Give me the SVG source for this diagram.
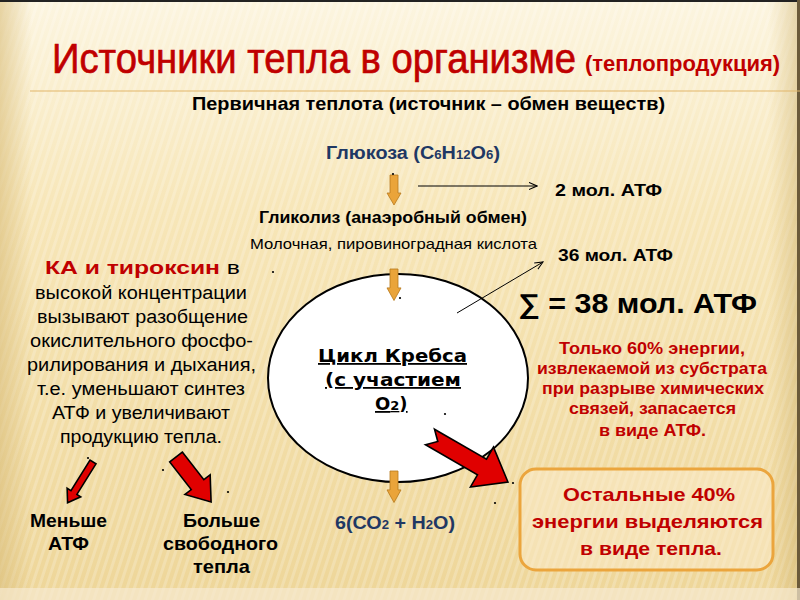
<svg xmlns="http://www.w3.org/2000/svg" width="800" height="600" viewBox="0 0 800 600">
<defs>
<linearGradient id="bg" x1="0" y1="0" x2="0" y2="1">
<stop offset="0" stop-color="#fcf5e0"/>
<stop offset="0.35" stop-color="#f7e6b8"/>
<stop offset="1" stop-color="#eed699"/>
</linearGradient>
<linearGradient id="side" x1="0" y1="0" x2="1" y2="0">
<stop offset="0" stop-color="#d9bd7a" stop-opacity="0.6"/>
<stop offset="0.04" stop-color="#d9bd7a" stop-opacity="0"/>
<stop offset="0.96" stop-color="#d9bd7a" stop-opacity="0"/>
<stop offset="1" stop-color="#c9ad6a" stop-opacity="0.5"/>
</linearGradient>
<pattern id="stripes" width="7" height="7" patternUnits="userSpaceOnUse" patternTransform="rotate(18)">
<rect x="0" y="0" width="3" height="7" fill="#ffffff" fill-opacity="0.2"/>
</pattern>
<marker id="thin" viewBox="0 0 10 10" refX="9" refY="5" markerWidth="9" markerHeight="9" orient="auto" markerUnits="userSpaceOnUse">
<path d="M0,1 L9,5 L0,9" fill="none" stroke="#000" stroke-width="1.2"/>
</marker>
<path id="oarrow" d="M-4,0 L4,0 L4,18 L7,18 L0,30 L-7,18 L-4,18 Z"/>
</defs>
<style>
.bk{font-family:"Liberation Sans",Arial,sans-serif;fill:#000}
.b{font-weight:bold}
.red{fill:#c00000}
.blue{fill:#1f3864}
.oa{fill:#eaa43a;stroke:#b87a1e;stroke-width:0.8}
.ra{fill:#e00000;stroke:#000;stroke-width:1.6;stroke-linejoin:miter}
.dot{fill:#000}
.conn{stroke:#000;stroke-width:1;fill:none}
</style>

<rect width="800" height="600" fill="url(#bg)"/>
<rect width="800" height="600" fill="url(#stripes)"/>
<rect width="800" height="600" fill="url(#side)"/>
<rect x="0" y="0" width="800" height="2" fill="#222"/>
<rect x="797" y="0" width="3" height="600" fill="#6b5a3a"/>
<rect x="0" y="588" width="800" height="12" fill="#f6ead0" fill-opacity="0.7"/>

<g id="title">
<text class="bk red" transform="translate(52,73) scale(0.8,1)" x="0" y="0" font-size="43" stroke="#c00000" stroke-width="0.7" textLength="655" lengthAdjust="spacingAndGlyphs">Источники тепла в организме</text>
<text class="bk b red" transform="translate(585,71) scale(0.8,1)" x="0" y="0" font-size="22" textLength="244" lengthAdjust="spacingAndGlyphs">(теплопродукция)</text>
<line x1="30" y1="91" x2="800" y2="91" stroke="#e2b56a" stroke-width="1.2"/>
<text class="bk b" x="192" y="110" font-size="18" textLength="473" lengthAdjust="spacingAndGlyphs">Первичная теплота (источник – обмен веществ)</text>
</g>

<g id="glucose">
<text class="bk b blue" x="326" y="159" font-size="18" textLength="174" lengthAdjust="spacingAndGlyphs">Глюкоза (С<tspan font-size="12">6</tspan>Н<tspan font-size="12">12</tspan>О<tspan font-size="12">6</tspan>)</text>
</g>
<g id="atp2"><text class="bk b" x="555" y="196" font-size="17" textLength="107" lengthAdjust="spacingAndGlyphs">2 мол. АТФ</text></g>
<g id="glycolysis">
<text class="bk b" x="259" y="223" font-size="16" textLength="268" lengthAdjust="spacingAndGlyphs">Гликолиз (анаэробный обмен)</text>
<text class="bk" x="250" y="249" font-size="15" textLength="287" lengthAdjust="spacingAndGlyphs">Молочная, пировиноградная кислота</text>
</g>
<g id="atp36"><text class="bk b" x="558" y="261" font-size="17" textLength="115" lengthAdjust="spacingAndGlyphs">36 мол. АТФ</text></g>
<g id="sum"><text class="bk b" x="518" y="313" font-size="27" textLength="239" lengthAdjust="spacingAndGlyphs">∑ = 38 мол. АТФ</text></g>

<g id="krebs">
<ellipse cx="398" cy="378" rx="130" ry="104" fill="#fff" stroke="#000" stroke-width="2"/>
<g font-family="'DejaVu Sans',Verdana,sans-serif" font-weight="bold" font-size="18" text-decoration="underline" fill="#000">
<text x="318" y="362" textLength="149" lengthAdjust="spacingAndGlyphs">Цикл Кребса</text>
<text x="325" y="386" textLength="136" lengthAdjust="spacingAndGlyphs">(с участием</text>
<text x="375" y="410">O<tspan font-size="13">2</tspan>)</text>
</g>
</g>

<g id="note60">
<g class="bk b red" font-size="16">
<text x="559" y="354" textLength="186" lengthAdjust="spacingAndGlyphs">Только  60% энергии,</text>
<text x="537" y="374" textLength="230" lengthAdjust="spacingAndGlyphs">извлекаемой из субстрата</text>
<text x="542" y="394" textLength="222" lengthAdjust="spacingAndGlyphs">при разрыве химических</text>
<text x="569" y="414" textLength="167" lengthAdjust="spacingAndGlyphs">связей, запасается</text>
<text x="599" y="436" textLength="107" lengthAdjust="spacingAndGlyphs">в виде АТФ.</text>
</g>
</g>

<g id="heat40">
<rect x="520" y="469" width="253" height="101" rx="16" fill="#fbeccb" fill-opacity="0.5" stroke="#eba53d" stroke-width="3"/>
<g class="bk b red" font-size="19">
<text x="563" y="501" textLength="172" lengthAdjust="spacingAndGlyphs">Остальные 40%</text>
<text x="532" y="528" textLength="231" lengthAdjust="spacingAndGlyphs">энергии выделяются</text>
<text x="580" y="555" textLength="142" lengthAdjust="spacingAndGlyphs">в виде тепла.</text>
</g>
</g>

<g id="products"><text class="bk b blue" x="335" y="529" font-size="18" textLength="120" lengthAdjust="spacingAndGlyphs">6(СО<tspan font-size="12">2</tspan> + Н<tspan font-size="12">2</tspan>О)</text></g>

<g id="hormones">
<g class="bk" font-size="18">
<text x="45" y="274" textLength="195" lengthAdjust="spacingAndGlyphs"><tspan class="b red">КА  и  тироксин</tspan>  в</text>
<text x="35" y="299" textLength="212" lengthAdjust="spacingAndGlyphs">высокой концентрации</text>
<text x="37" y="323" textLength="211" lengthAdjust="spacingAndGlyphs">вызывают разобщение</text>
<text x="30" y="347" textLength="223" lengthAdjust="spacingAndGlyphs">окислительного фосфо-</text>
<text x="27" y="371" textLength="229" lengthAdjust="spacingAndGlyphs">рилирования и дыхания,</text>
<text x="37" y="395" textLength="208" lengthAdjust="spacingAndGlyphs">т.е. уменьшают синтез</text>
<text x="52" y="419" textLength="178" lengthAdjust="spacingAndGlyphs">АТФ и увеличивают</text>
<text x="60" y="443" textLength="162" lengthAdjust="spacingAndGlyphs">продукцию тепла.</text>
</g>
</g>

<g id="lessATP"><g class="bk b" font-size="18.5"><text x="30" y="527" textLength="77" lengthAdjust="spacingAndGlyphs">Меньше</text><text x="48" y="550" textLength="41" lengthAdjust="spacingAndGlyphs">АТФ</text></g></g>
<g id="moreHeat"><g class="bk b" font-size="18.5"><text x="183" y="527" textLength="77" lengthAdjust="spacingAndGlyphs">Больше</text><text x="163" y="550" textLength="115" lengthAdjust="spacingAndGlyphs">свободного</text><text x="193" y="573" textLength="57" lengthAdjust="spacingAndGlyphs">тепла</text></g></g>

<g id="connectors">
<use href="#oarrow" class="oa" transform="translate(394,175)"/>
<use href="#oarrow" class="oa" transform="translate(394,269) scale(1,1.05)"/>
<use href="#oarrow" class="oa" transform="translate(394,471) scale(1,1.05)"/>
<line class="conn" x1="418" y1="186" x2="537" y2="186" marker-end="url(#thin)"/>
<line class="conn" x1="457" y1="313" x2="543" y2="262" marker-end="url(#thin)"/>
<polygon class="ra" transform="translate(430,437) rotate(30)" points="0,-9 60,-9 60,-23 90,0 60,23 60,9 0,9 9,0"/>
<polygon class="ra" transform="translate(176,457) rotate(52)" points="0,-8 35,-8 35,-16 57,0 35,16 35,8 0,8"/>
<polygon class="ra" transform="translate(93,462) rotate(122)" points="0,-3.5 36,-3.5 36,-8 48,0 36,8 36,3.5 0,3.5"/>
</g>

<g id="dots">
<circle class="dot" cx="393" cy="174" r="1.1"/>
<circle class="dot" cx="273" cy="272" r="1.1"/>
<circle class="dot" cx="400" cy="298" r="1.1"/>
<circle class="dot" cx="445" cy="414" r="1.1"/>
<circle class="dot" cx="513" cy="483" r="1.1"/>
<circle class="dot" cx="495" cy="503" r="1.1"/>
<circle class="dot" cx="88" cy="458" r="1.1"/>
<circle class="dot" cx="163" cy="470" r="1.1"/>
<circle class="dot" cx="228" cy="492" r="1.1"/>
</g>
</svg>
